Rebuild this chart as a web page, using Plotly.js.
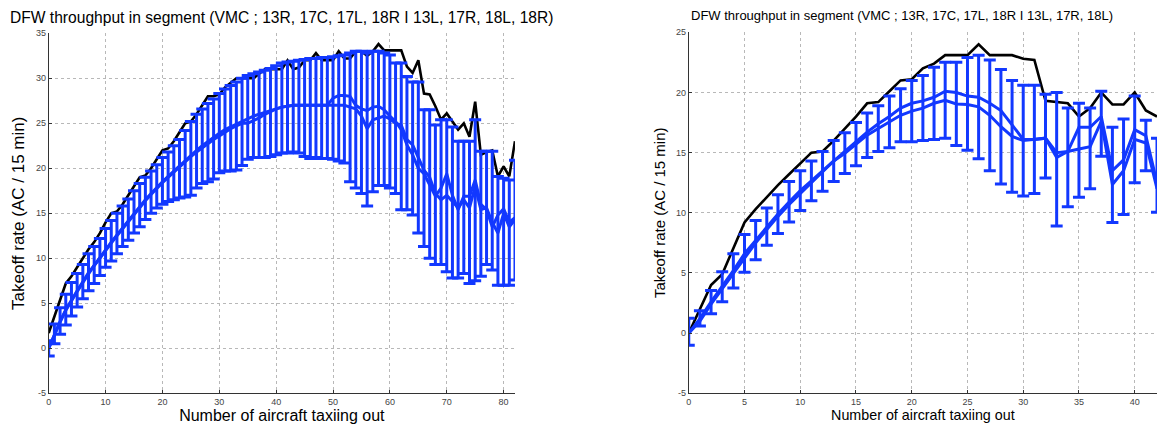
<!DOCTYPE html>
<html>
<head>
<meta charset="utf-8">
<script src="https://cdn.plot.ly/plotly-3.0.1.min.js"></script>
<style>
  html, body { margin: 0; padding: 0; background: #fff; }
  #chart { width: 1157px; height: 426px; }
</style>
</head>
<body>
<div id="chart"></div>
<script>
// ---- Segment with 13R, 17C, 17L, 18R | 13L, 17R, 18L, 18R (left panel) ----
const peakLeft = [1.7,3.5,5.5,7.2,8,9,10,11,11.8,12.8, 14,15,15.2,16,17,18,19,19.2,20,21,
  22,22.2,23,24,25,25.2,26,27,28,28, 28.2,29,29.5,30,30,30,30,30.5,31,31,
  31,31,32,31,31.2,32,32,32.8,32,32, 32,33,32.2,32.2,33,33,32.5,33,33.8,33.1,
  33.1,33.1,33.1,31.3,30.6,32,28.3,28.2,26.9,25.4, 26.1,25.2,24.3,25,23.5,27.4,21.5,21.8,22,19.1,
  20.2,19.1,23];
const meanLeft = [0,1.6,3.0,4.3,5.4,6.4,7.4,8.4,9.2,10.1, 11.0,11.8,12.6,13.4,14.2,15.0,15.8,16.5,17.2,17.9,
  18.5,19.1,19.7,20.3,20.9,21.5,22.0,22.5,23.0,23.4, 23.9,24.3,24.6,24.9,25.2,25.5,25.8,26.0,26.2,26.4,
  26.6,26.8,26.9,27.0,27.0,27.0,27.0,27.0,27.0,27.0, 27.0,27.0,27.0,26.8,26.6,25.8,24.4,25.4,25.6,25.8,
  25.5,25.0,24.8,23.2,22.6,21.2,19.8,19.0,17.2,16.5, 17.0,16.3,15.6,16.5,15.6,18.0,15.4,15.6,14.0,12.8,
  15.0,13.5,14.3];
const medianLeft = [0,1.5,2.9,4.2,5.3,6.3,7.3,8.3,9.2,10.0, 10.9,11.7,12.5,13.3,14.1,14.9,15.7,16.4,17.1,17.8,
  18.4,19.0,19.6,20.2,20.8,21.3,21.8,22.3,22.8,23.2, 23.6,24.0,24.4,24.7,25.0,25.0,25.3,25.6,26.0,26.3,
  26.6,26.8,26.9,27.0,27.0,27.0,27.0,27.0,27.0,27.0, 27.8,28.1,28.1,28.0,27.0,26.6,26.4,26.8,26.9,26.5,
  25.8,25.2,24.3,22.6,21.5,20.0,19.4,18.2,16.9,17.8, 19.4,17.0,15.4,16.9,16.9,18.7,16.0,15.4,13.5,14.8,
  15.5,14.0,14.5];
const upperLeft = [0.85,2.7,4.5,6.0,7.3,8.3,9.3,10.5,11.3,12.2, 13.3,14.2,15,15.8,16.6,17.5,18.3,19,19.7,20.4,
  21.2,21.8,22.5,23.2,24.2,25.2,26,26.6,27.2,27.7, 28.3,28.8,29.2,29.6,30,30.3,30.5,30.7,30.9,31.1,
  31.4,31.7,31.8,31.9,32,32.1,32.2,32.2,32.3,32.3, 32.4,32.5,32.6,32.8,33,33,32.8,33,33,32.8,
  32.6,31.7,31.7,30.2,29.6,29.6,26.5,26.5,24.8,25.4, 25.4,24.6,23,23,23,25.4,21.9,21.9,21.9,19.1,
  18.9,18.7,20.9];
const lowerLeft = [-0.85,0.5,1.55,2.6,3.6,4.6,5.5,6.4,7.2,8.1, 9,9.7,10.5,11.3,12,12.8,13.5,14.3,15,15.6,
  16,16.3,16.5,16.7,16.8,17,17.8,18.3,18.5,18.8, 19.5,19.7,19.7,19.8,20.3,21,21.2,21.2,21.2,21.3,
  21.5,21.7,21.7,21.8,21.7,21.3,21.1,21.2,21.1,21.1, 21,20.8,20.6,18.5,17.8,17.2,15.8,17.4,18.1,18.1,
  17.8,17.2,15.4,15.4,14.8,12.8,11.3,10,9.3,9.3, 8.5,7.8,7.8,8.3,7.2,7.5,8,9.3,8.7,7,
  7,7,7.6];

// ---- Segment with 13R, 17C, 17L, 18R | 13L, 17R, 18L (right panel) ----
const peakRight = [0,2,4,4.9,7,9.2,10.3,11.3,12.3,13.2, 14.1,15,15.1,16,17,18,19.1,19.2,20.1,21,
  21.1,22,22.4,23.1,23.1,23.1,24,23.1,23.1,23.1, 22.8,22.7,19.3,19.2,19.1,18,18.7,20,19,19,
  20,18.5,18];
const meanRight = [0,1.2,2.6,3.85,5.2,6.6,7.7,8.85,9.9,10.9, 11.85,12.65,13.45,14.3,14.95,15.7,16.45,17.0,17.55,18.1,
  18.45,18.7,19.1,19.35,19.05,19.0,18.8,18.1,17.15,16.35, 16.0,16.1,16.2,14.6,15.1,15.3,15.5,17.6,12.35,13.5,
  16.1,15.8,12.0];
const medianRight = [0,1.0,2.4,3.7,5.0,6.3,7.5,8.6,9.7,10.7, 11.6,12.5,13.4,14.3,15.1,15.9,16.7,17.4,18.0,18.7,
  19.1,19.3,19.6,20.1,20.0,19.7,19.6,19.1,18.5,17.3, 16.1,16.1,16.2,15.0,15.1,17.1,17.1,18.0,13.5,14.4,
  16.9,16.4,12.5];
const upperRight = [1.24,1.85,3.55,5.1,6.6,8.2,9.35,10.4,11.5,12.6, 13.5,14.3,15.1,16,16.66,17.5,18.3,18.9,19.7,20.3,
  21,21.4,22.1,22.5,22.5,22.9,23.1,22.7,21.9,21, 20.6,20.6,19.85,20,18.7,19.1,18.7,20.1,17.1,17.8,
  19.7,17.7,16.2];
const lowerRight = [-1.0,0.6,1.6,2.6,3.75,5.05,6.1,7.3,8.27,9.24, 10.2,11,11.8,12.6,13.27,13.9,14.6,15.1,15.4,15.9,
  15.9,16,16.1,16.2,15.6,15.2,14.5,13.5,12.4,11.7, 11.4,11.6,12.9,8.9,10.5,11.3,12,14.7,9.2,9.85,
  12.5,13.5,10.05];

const xTicksLeft = [0, 10, 20, 30, 40, 50, 60, 70, 80];
const xTicksRight = [0, 5, 10, 15, 20, 25, 30, 35, 40];
const yTicksLeft = [-5, 0, 5, 10, 15, 20, 25, 30, 35];
const yTicksRight = [-5, 0, 5, 10, 15, 20, 25];

const titleLeft = 'DFW throughput in segment (VMC ; 13R, 17C, 17L, 18R I 13L, 17R, 18L, 18R)';
const titleRight = 'DFW throughput in segment (VMC ; 13R, 17C, 17L, 18R I 13L, 17R, 18L)';
const xLabel = 'Number of aircraft taxiing out';
const yLabel = 'Takeoff rate (AC / 15 min)';

// aircraft counts 0..N-1 for each panel
function counts(n) { const a = []; for (let i = 0; i < n; i++) a.push(i); return a; }

const BLUE = '#1238ff';
const BLACK = '#000000';

function panelTraces(peak, mean, median, upper, lower, xa, ya, lw, capW) {
  const x = counts(mean.length);
  const errUp = upper.map((u, i) => u - mean[i]);
  const errDown = lower.map((l, i) => mean[i] - l);
  return [
    { x: x, y: peak, xaxis: xa, yaxis: ya, mode: 'lines', type: 'scatter',
      line: { color: BLACK, width: 2.6 }, hoverinfo: 'skip' },
    { x: x, y: mean, xaxis: xa, yaxis: ya, mode: 'lines', type: 'scatter',
      line: { color: BLUE, width: lw },
      error_y: { type: 'data', symmetric: false, array: errUp, arrayminus: errDown,
                 color: BLUE, thickness: lw, width: capW } },
    { x: x, y: median, xaxis: xa, yaxis: ya, mode: 'lines', type: 'scatter',
      line: { color: BLUE, width: lw } }
  ];
}

const data = [].concat(
  panelTraces(peakLeft, meanLeft, medianLeft, upperLeft, lowerLeft, 'x', 'y', 3, 6),
  panelTraces(peakRight, meanRight, medianRight, upperRight, lowerRight, 'x2', 'y2', 3, 6)
);

const FONT = 'Liberation Sans, Arial, Helvetica, sans-serif';

function axisBase(extra) {
  return Object.assign({
    showline: true, linecolor: '#333', linewidth: 1, mirror: false,
    showgrid: true, gridcolor: '#b8b8b8', gridwidth: 1, griddash: 'dot',
    zeroline: false, ticks: 'inside', ticklen: 3, tickcolor: '#333',
    tickfont: { family: FONT, size: 9, color: '#444' },
    tickmode: 'array', automargin: false, fixedrange: true
  }, extra);
}

const layout = {
  width: 1157, height: 426,
  margin: { l: 0, r: 0, t: 0, b: 0 },
  paper_bgcolor: '#fff', plot_bgcolor: '#fff',
  showlegend: false,
  font: { family: FONT, color: '#000' },
  xaxis: axisBase({ domain: [0.0421, 0.4451], range: [0, 82], anchor: 'y',
    tickvals: xTicksLeft, ticktext: xTicksLeft.map(String),
    title: { text: xLabel, font: { family: FONT, size: 16, color: '#000' }, standoff: 0 } }),
  yaxis: axisBase({ domain: [0.0768, 0.9218], range: [-5, 35], anchor: 'x',
    tickvals: yTicksLeft, ticktext: yTicksLeft.map(String),
    title: { text: yLabel, font: { family: FONT, size: 17, color: '#000' }, standoff: 6 } }),
  xaxis2: axisBase({ domain: [0.5953, 1.0], range: [0, 42], anchor: 'y2',
    tickvals: xTicksRight, ticktext: xTicksRight.map(String),
    title: { text: xLabel, font: { family: FONT, size: 14.3, color: '#000' }, standoff: 1 } }),
  yaxis2: axisBase({ domain: [0.0768, 0.9242], range: [-5, 25], anchor: 'x2',
    tickvals: yTicksRight, ticktext: yTicksRight.map(String),
    title: { text: yLabel, font: { family: FONT, size: 15, color: '#000' }, standoff: 6 } }),
  annotations: [
    { text: titleLeft, xref: 'paper', yref: 'paper', x: 281 / 1157, y: 1 - 17 / 426,
      xanchor: 'center', yanchor: 'middle', showarrow: false,
      font: { family: FONT, size: 15.6, color: '#000' } },
    { text: titleRight, xref: 'paper', yref: 'paper', x: 902 / 1157, y: 1 - 16 / 426,
      xanchor: 'center', yanchor: 'middle', showarrow: false,
      font: { family: FONT, size: 13, color: '#000' } }
  ]
};

Plotly.newPlot('chart', data, layout, { staticPlot: true, displayModeBar: false });
</script>
</body>
</html>
